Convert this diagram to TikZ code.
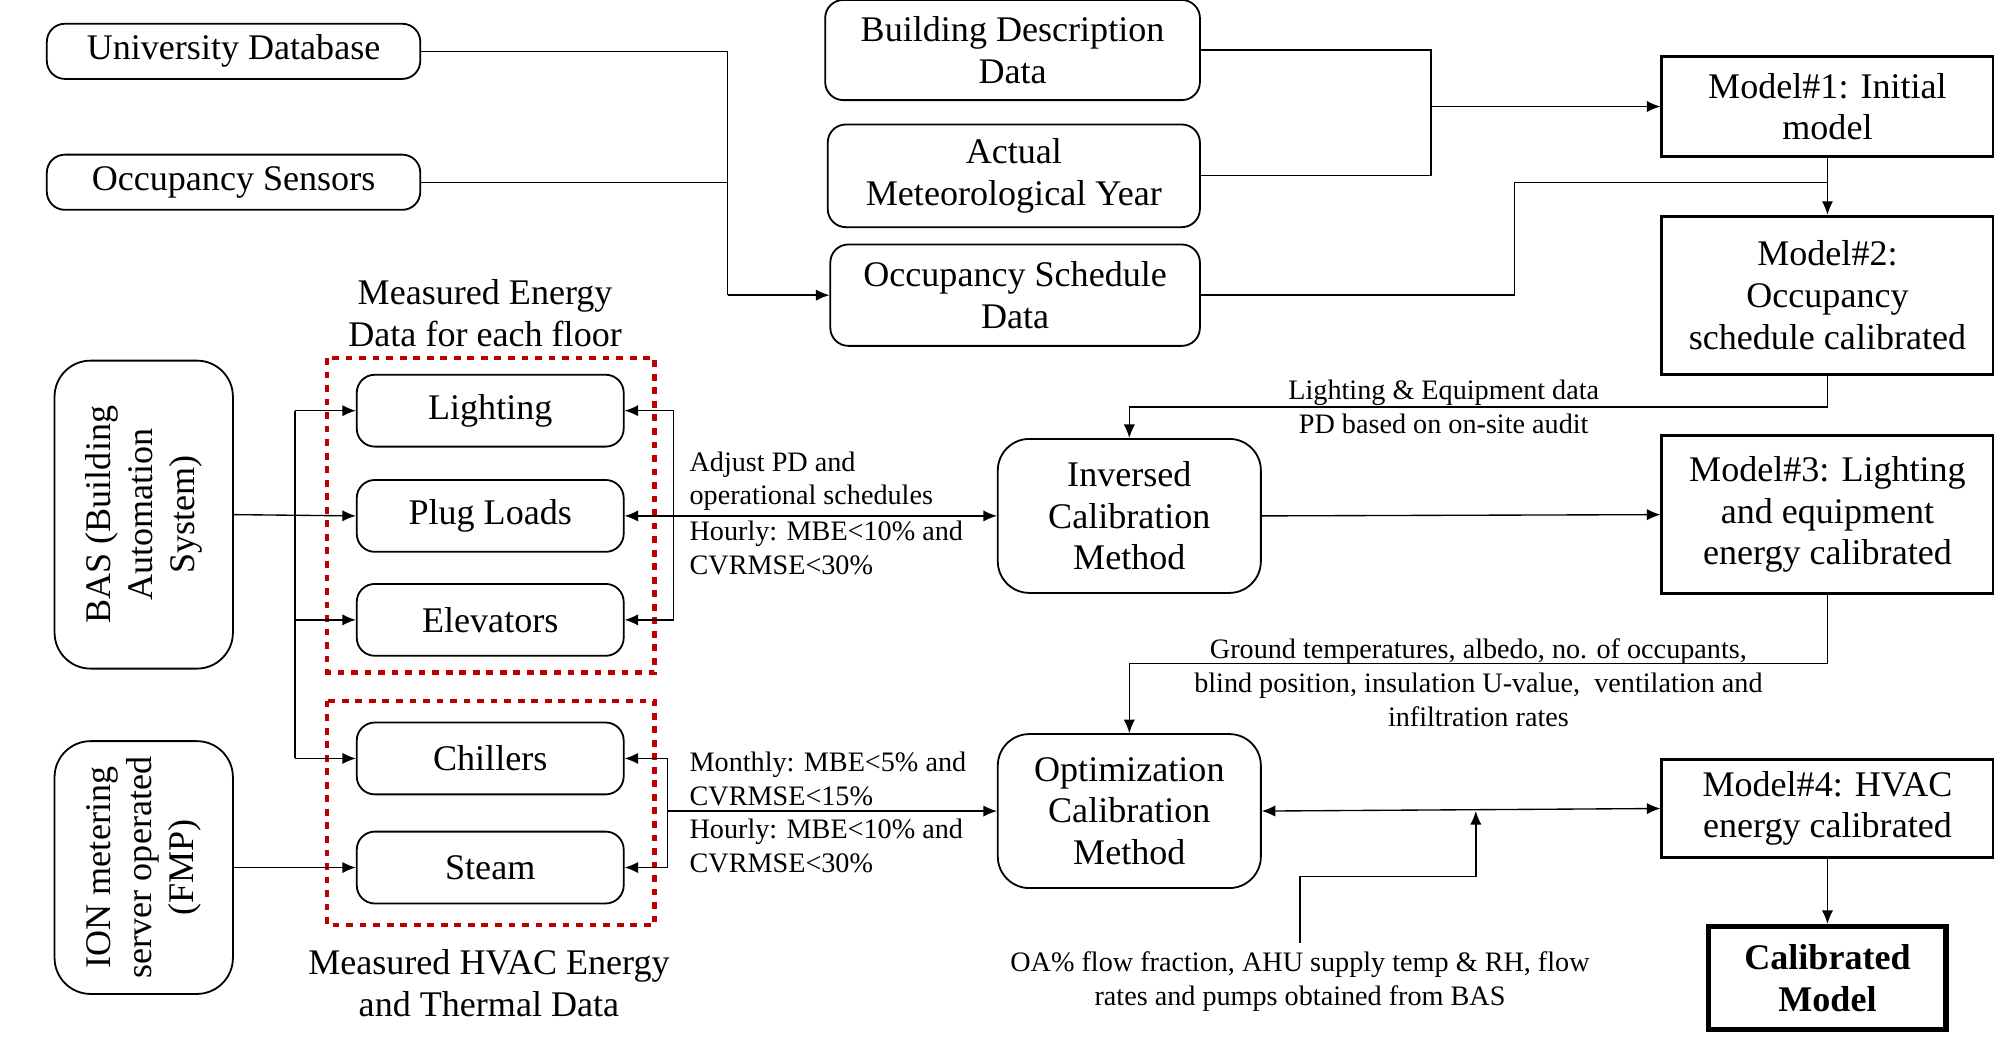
\documentclass[tikz,border=0pt]{standalone}
\usepackage{fontspec}
\setmainfont{Liberation Serif}
\usetikzlibrary{arrows.meta}
\begin{document}
\begin{tikzpicture}[x=0.02cm,y=-0.02cm,
 box/.style={draw,thick,rounded corners=8pt,align=center,font=\fontsize{16}{18.5}\selectfont,inner sep=0pt},
 mbox/.style={draw,line width=1.3pt,align=center,font=\fontsize{16}{18.5}\selectfont,inner sep=0pt},
 lbl/.style={align=center,font=\fontsize{12.5}{15}\selectfont,inner sep=0pt},
 lblw/.style={align=left,anchor=west,font=\fontsize{12.5}{15}\selectfont,inner sep=0pt},
 arr/.style={-{Latex[length=6pt,width=5pt]}},
 ln/.style={line width=0.6pt}]
\useasboundingbox (0,0) rectangle (1560,822);
\node[box,minimum width=291*0.02cm,minimum height=43*0.02cm] (ud) at (182,40) {University Database};
\node[box,minimum width=291*0.02cm,minimum height=43*0.02cm] (os) at (182,142) {Occupancy Sensors};
\node[box,minimum width=292*0.02cm,minimum height=78*0.02cm] (bd) at (789,39) {Building Description\\Data};
\node[box,minimum width=290*0.02cm,minimum height=80*0.02cm] (am) at (790,137) {Actual\\Meteorological Year};
\node[box,minimum width=288*0.02cm,minimum height=79*0.02cm] (osd) at (791,230) {Occupancy Schedule\\Data};
\node[mbox,minimum width=258*0.02cm,minimum height=78*0.02cm] (m1) at (1424,83) {Model\#1: Initial\\model};
\node[mbox,minimum width=258*0.02cm,minimum height=123*0.02cm] (m2) at (1424,230) {Model\#2:\\Occupancy\\schedule calibrated};
\node[mbox,minimum width=258*0.02cm,minimum height=123*0.02cm] (m3) at (1424,401) {Model\#3: Lighting\\and equipment\\energy calibrated};
\node[mbox,minimum width=258*0.02cm,minimum height=77*0.02cm] (m4) at (1424,630) {Model\#4: HVAC\\energy calibrated};
\node[draw,line width=2.4pt,align=center,font=\fontsize{16}{18.5}\selectfont\bfseries,minimum width=185*0.02cm,minimum height=80*0.02cm,inner sep=0pt] (cm) at (1424,762) {Calibrated\\Model};
\node[box,rounded corners=16pt,minimum width=139*0.02cm,minimum height=240*0.02cm] (bas) at (112,401) {};
\node[rotate=90,align=center,font=\fontsize{16}{18.5}\selectfont] at (bas) {BAS (Building\\Automation\\System)};
\node[box,rounded corners=16pt,minimum width=139*0.02cm,minimum height=197*0.02cm] (ion) at (112,676) {};
\node[rotate=90,align=center,font=\fontsize{16}{18.5}\selectfont] at (ion) {ION metering\\server operated\\(FMP)};
\foreach \n/\t/\y in {li/Lighting/320,pl/Plug Loads/402,el/Elevators/483,ch/Chillers/591,st/Steam/676}
 \node[box,minimum width=208*0.02cm,minimum height=56*0.02cm] (\n) at (382,\y) {\t};
\draw[red!75!black,dashed,line width=1.8pt] (255,279) rectangle (510,524);
\draw[red!75!black,dashed,line width=1.8pt] (255,546) rectangle (510,721);
\node[box,rounded corners=14pt,minimum width=205*0.02cm,minimum height=120*0.02cm] (inv) at (880,402) {Inversed\\Calibration\\Method};
\node[box,rounded corners=14pt,minimum width=205*0.02cm,minimum height=120*0.02cm] (opt) at (880,632) {Optimization\\Calibration\\Method};
\node[lbl,font=\fontsize{16}{18.5}\selectfont] at (378,244) {Measured Energy\\Data for each floor};
\node[lbl,font=\fontsize{16}{18.5}\selectfont] at (381,766) {Measured HVAC Energy\\and Thermal Data};
% top connectors
\coordinate (j1) at (567,230);
\draw[ln] (ud.east) -| (j1); \draw[ln] (os.east) -- (567,142);
\draw[ln,arr] (j1) -- (osd.west);
\draw[ln] (bd.east) -| (1115,137) -- (am.east);
\draw[ln,arr] (1115,83) -- (m1.west);
\draw[ln,arr] (m1.south) -- (m2.north);
\draw[ln] (osd.east) -- (1180,230) -- (1180,142) -- (1424,142);
\draw[ln,arr] (m2.south) -- (1424,317) -| (inv.north);
\node[lbl] at (1125,317) {Lighting \& Equipment data\\PD based on on-site audit};
% left
\draw[ln,arr] (bas.east) -- (pl.west);
\draw[ln] (230,320) -- (230,591);
\draw[ln,arr] (230,320) -- (li.west);
\draw[ln,arr] (230,483) -- (el.west);
\draw[ln,arr] (230,591) -- (ch.west);
\draw[ln,arr] (ion.east) -- (st.west);
\draw[ln] (525,320) -- (525,483);
\draw[ln,arr] (525,320) -- (li.east);
\draw[ln,arr] (525,483) -- (el.east);
\draw[ln,{Latex[length=6pt,width=5pt]}-{Latex[length=6pt,width=5pt]}] (pl.east) -- (inv.west);
\draw[ln] (520,591) -- (520,676);
\draw[ln,arr] (520,591) -- (ch.east);
\draw[ln,arr] (520,676) -- (st.east);
\draw[ln,arr] (520,632) -- (opt.west);
\node[lblw] at (537,375) {Adjust PD and\\operational schedules};
\node[lblw] at (537,427) {Hourly: MBE<10\% and\\CVRMSE<30\%};
\node[lblw] at (537,607) {Monthly: MBE<5\% and\\CVRMSE<15\%};
\node[lblw] at (537,659) {Hourly: MBE<10\% and\\CVRMSE<30\%};
% right
\draw[ln,arr] (inv.east) -- (m3.west);
\draw[ln,arr] (m3.south) -- (1424,517) -| (opt.north);
\node[lbl] at (1152,532) {Ground temperatures, albedo, no. of occupants,\\blind position, insulation U-value,\ \ ventilation and\\infiltration rates};
\draw[ln,{Latex[length=6pt,width=5pt]}-{Latex[length=6pt,width=5pt]}] (opt.east) -- (m4.west);
\coordinate (oa) at (1013,735);
\draw[ln,arr] (oa) -- (1013,683) -- (1150,683) -- (1150,632);
\node[lbl] at (1013,765) {OA\% flow fraction, AHU supply temp \& RH, flow\\rates and pumps obtained from BAS};
\draw[ln,arr] (m4.south) -- (cm.north);
\end{tikzpicture}
\end{document}
